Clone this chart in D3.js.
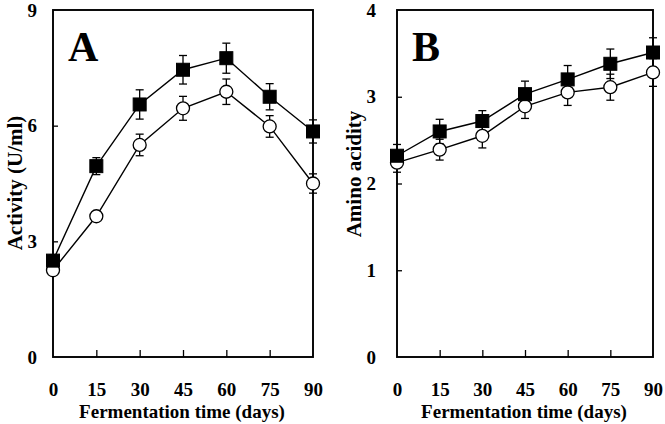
<!DOCTYPE html>
<html>
<head>
<meta charset="utf-8">
<script src="https://cdn.jsdelivr.net/npm/d3@7"></script>
<style>
  body { margin: 0; background: #fff; }
  text { font-family: "Liberation Serif", "Times New Roman", serif; font-weight: bold; fill: #000; }
</style>
</head>
<body>
<div id="vis"></div>
<script>
// fermentation time (days)
const days = [0, 15, 30, 45, 60, 75, 90];

// panel A: activity (U/ml)
const activityFilled = [2.5, 4.95, 6.55, 7.45, 7.75, 6.75, 5.85];
const activityFilledErr = [0.15, 0.22, 0.38, 0.37, 0.39, 0.34, 0.3];
const activityOpen = [2.25, 3.65, 5.5, 6.45, 6.88, 5.98, 4.5];
const activityOpenErr = [0.1, 0.1, 0.28, 0.31, 0.33, 0.28, 0.25];

// panel B: amino acidity
const aminoFilled = [2.32, 2.6, 2.72, 3.03, 3.2, 3.38, 3.51];
const aminoFilledErr = [0.13, 0.14, 0.12, 0.15, 0.16, 0.17, 0.17];
const aminoOpen = [2.24, 2.39, 2.55, 2.89, 3.05, 3.11, 3.28];
const aminoOpenErr = [0.11, 0.12, 0.14, 0.14, 0.15, 0.15, 0.16];

const xTicks = [0, 15, 30, 45, 60, 75, 90];

const width = 665, height = 424;
const svg = d3.select("#vis").append("svg").attr("width", width).attr("height", height);

const panels = [
  {letter: "A", left: 53, right: 313, yMax: 9, yTicks: [0, 3, 6, 9], yTitle: "Activity (U/ml)",
   titleX: 22, titleY: 183, yPad: 16,
   filled: activityFilled, filledErr: activityFilledErr, open: activityOpen, openErr: activityOpenErr},
  {letter: "B", left: 397, right: 653, yMax: 4, yTicks: [0, 1, 2, 3, 4], yTitle: "Amino acidity",
   titleX: 361, titleY: 174, yPad: 21,
   filled: aminoFilled, filledErr: aminoFilledErr, open: aminoOpen, openErr: aminoOpenErr}
];

const plotTop = 10, plotBottom = 357;

panels.forEach(p => {
  const x = d3.scaleLinear().domain([0, 90]).range([p.left, p.right]);
  const y = d3.scaleLinear().domain([0, p.yMax]).range([plotBottom, plotTop]);
  const g = svg.append("g");

  // frame
  g.append("rect").attr("x", p.left).attr("y", plotTop)
    .attr("width", p.right - p.left).attr("height", plotBottom - plotTop)
    .attr("fill", "none").attr("stroke", "#000").attr("stroke-width", 1.9);

  // inward ticks
  const xAxis = d3.axisBottom(x).tickValues(xTicks).tickSize(-7).tickFormat(d3.format("d")).tickPadding(26);
  const xg = g.append("g").attr("transform", `translate(0,${plotBottom})`).call(xAxis);
  const yAxis = d3.axisLeft(y).tickValues(p.yTicks).tickSize(-5).tickFormat(d3.format("d")).tickPadding(p.yPad);
  const yg = g.append("g").attr("transform", `translate(${p.left},0)`).call(yAxis);
  [xg, yg].forEach(a => {
    a.select(".domain").remove();
    a.selectAll(".tick line").attr("stroke", "#000").attr("stroke-width", 1.3);
    a.selectAll(".tick text").style("font-size", "19px").attr("fill", "#000");
  });
  xg.selectAll(".tick line").filter(d => d === 0 || d === 90).remove();
  yg.selectAll(".tick line").filter(d => d === 0 || d === p.yMax).remove();

  // axis titles
  g.append("text").attr("x", (p.left + p.right) / 2 - 1).attr("y", 418)
    .attr("text-anchor", "middle").style("font-size", "19px").text("Fermentation time (days)");
  g.append("text").attr("transform", `translate(${p.titleX},${p.titleY}) rotate(-90)`)
    .attr("text-anchor", "middle").style("font-size", "21px").text(p.yTitle);

  // panel letter
  g.append("text").attr("x", p.left + 15).attr("y", plotTop + 51)
    .style("font-size", "42px").text(p.letter);

  const line = d3.line().x((d, i) => x(days[i])).y(d => y(d));

  const series = [
    {vals: p.open, err: p.openErr, kind: "open"},
    {vals: p.filled, err: p.filledErr, kind: "filled"}
  ];

  series.forEach(s => {
    g.append("path").datum(s.vals).attr("d", line)
      .attr("fill", "none").attr("stroke", "#000").attr("stroke-width", 1.4);
  });

  series.forEach(s => {
    const eb = g.append("g");
    s.vals.forEach((v, i) => {
      const cx = x(days[i]);
      const y1 = y(v + s.err[i]), y2 = y(v - s.err[i]);
      eb.append("line").attr("x1", cx).attr("x2", cx).attr("y1", y1).attr("y2", y2)
        .attr("stroke", "#000").attr("stroke-width", 1.3);
      [y1, y2].forEach(yy => eb.append("line").attr("x1", cx - 4).attr("x2", cx + 4)
        .attr("y1", yy).attr("y2", yy).attr("stroke", "#000").attr("stroke-width", 1.3));
    });
  });

  series.forEach(s => {
    if (s.kind === "open") {
      g.selectAll(null).data(s.vals).enter().append("circle")
        .attr("cx", (d, i) => x(days[i])).attr("cy", d => y(d)).attr("r", 6.5)
        .attr("fill", "#fff").attr("stroke", "#000").attr("stroke-width", 1.3);
    } else {
      g.selectAll(null).data(s.vals).enter().append("rect")
        .attr("x", (d, i) => x(days[i]) - 6.5).attr("y", d => y(d) - 6.5)
        .attr("width", 13).attr("height", 13)
        .attr("fill", "#000").attr("stroke", "#000").attr("stroke-width", 1);
    }
  });
});
</script>
</body>
</html>
